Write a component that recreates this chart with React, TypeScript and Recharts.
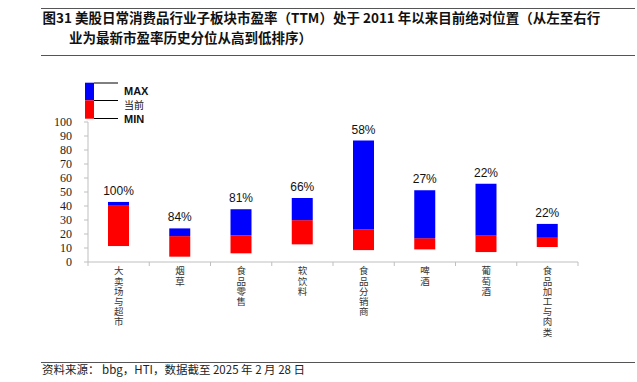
import React from 'react';
import { BarChart, Bar, XAxis, YAxis, LabelList } from 'recharts';

const categories = ['大卖场与超市', '烟草', '食品零售', '软饮料', '食品分销商', '啤酒', '葡萄酒', '食品加工与肉类'];
const minValues = [11.4, 3.8, 6.2, 12.6, 8.5, 9.0, 7.1, 10.7];
const currentValues = [40.2, 18.5, 19.0, 29.9, 23.5, 17.0, 19.0, 17.3];
const maxValues = [42.9, 24.0, 37.7, 45.7, 86.7, 51.2, 55.9, 27.2];
const percentileLabels = ['100%', '84%', '81%', '66%', '58%', '27%', '22%', '22%'];
const yTicks = [0, 10, 20, 30, 40, 50, 60, 70, 80, 90, 100];

const titleLine1 = '图31 美股日常消费品行业子板块市盈率（TTM）处于 2011 年以来目前绝对位置（从左至右行';
const titleLine2 = '业为最新市盈率历史分位从高到低排序）';
const sourceText = '资料来源： bbg，HTI，数据截至 2025 年 2 月 28 日';
const legendLabels = ['MAX', '当前', 'MIN'];

const data = categories.map((name, i) => ({
  name,
  base: minValues[i],
  low: +(currentValues[i] - minValues[i]).toFixed(2),
  high: +(maxValues[i] - currentValues[i]).toFixed(2),
  pct: percentileLabels[i],
}));

const AXIS_COLOR = '#bfbfbf';
const CJK = '"Noto Sans CJK SC", "Noto Sans", sans-serif';

const XTick = (props: any) => {
  const { x, y, payload, index } = props;
  const half = payload && payload.offset ? payload.offset : 30.625;
  const axisY = y - 6;
  return (
    <g>
      <line x1={x + half} x2={x + half} y1={axisY} y2={axisY + 4} stroke={AXIS_COLOR} />
      {index === 0 && <line x1={x - half} x2={x - half} y1={axisY} y2={axisY + 4} stroke={AXIS_COLOR} />}
      <text
        x={x}
        y={axisY + 4}
        fontFamily={CJK}
        fontSize={9.5}
        fill="#333"
        style={{ writingMode: 'vertical-rl', letterSpacing: '0.7px' }}
      >
        {String(payload.value)}
      </text>
    </g>
  );
};

export default function App() {
  return (
    <div style={{ position: 'absolute', left: 0, top: 0, width: 637, height: 382, background: '#fff' }}>
      <BarChart
        width={637}
        height={382}
        data={data}
        margin={{ top: 122, right: 59, bottom: 40, left: 48 }}
        barCategoryGap={0}
      >
        <XAxis
          dataKey="name"
          interval={0}
          height={80}
          tickLine={false}
          tickSize={4}
          tickMargin={2}
          axisLine={{ stroke: AXIS_COLOR }}
          tick={<XTick />}
        />
        <YAxis
          width={40}
          domain={[0, 100]}
          ticks={yTicks}
          interval={0}
          tickSize={4}
          tickMargin={12}
          axisLine={{ stroke: AXIS_COLOR }}
          tickLine={{ stroke: AXIS_COLOR }}
          tick={{ fontFamily: '"Liberation Serif", serif', fontSize: 12, fill: '#222' }}
        />
        <Bar dataKey="base" stackId="s" fill="transparent" barSize={21} isAnimationActive={false} />
        <Bar dataKey="low" stackId="s" fill="#ff0000" barSize={21} isAnimationActive={false} />
        <Bar dataKey="high" stackId="s" fill="#0000ff" barSize={21} isAnimationActive={false}>
          <LabelList
            dataKey="pct"
            position="top"
            offset={7}
            style={{ fontFamily: '"Liberation Sans", Arial, sans-serif', fontSize: 12, fill: '#111' }}
          />
        </Bar>
      </BarChart>
      <svg
        width={637}
        height={382}
        style={{ position: 'absolute', left: 0, top: 0, pointerEvents: 'none' }}
      >
        <line x1={41} x2={635} y1={8.5} y2={8.5} stroke="#555" strokeWidth={1} />
        <text x={42.5} y={18} dy="0.36em" fontFamily={CJK} fontWeight={700} fontSize={13.5} fill="#111">
          {titleLine1}
        </text>
        <text x={69} y={38} dy="0.36em" fontFamily={CJK} fontWeight={700} fontSize={13.5} fill="#111">
          {titleLine2}
        </text>
        <line x1={41} x2={635} y1={55.5} y2={55.5} stroke="#555" strokeWidth={1} />

        <rect x={85} y={82.7} width={9} height={17.6} fill="#0000ff" />
        <rect x={85} y={100.3} width={9} height={18.4} fill="#ff0000" />
        <line x1={94} x2={118} y1={83} y2={83} stroke="#000" />
        <line x1={94} x2={118} y1={100.5} y2={100.5} stroke="#000" />
        <line x1={94} x2={118} y1={118.5} y2={118.5} stroke="#000" />
        <text x={124} y={90.7} dy="0.36em" fontFamily='"Liberation Sans", Arial, sans-serif' fontWeight={700} fontSize={11} fill="#111">
          {legendLabels[0]}
        </text>
        <text x={124} y={105.5} dy="0.36em" fontFamily={CJK} fontSize={10} fill="#111">
          {legendLabels[1]}
        </text>
        <text x={124} y={119} dy="0.36em" fontFamily='"Liberation Sans", Arial, sans-serif' fontWeight={700} fontSize={11} fill="#111">
          {legendLabels[2]}
        </text>

        <line x1={41} x2={635} y1={362.5} y2={362.5} stroke="#555" strokeWidth={1} />
        <text x={42} y={370} dy="0.36em" fontFamily={CJK} fontSize={11.5} fill="#222">
          {sourceText}
        </text>
      </svg>
    </div>
  );
}
